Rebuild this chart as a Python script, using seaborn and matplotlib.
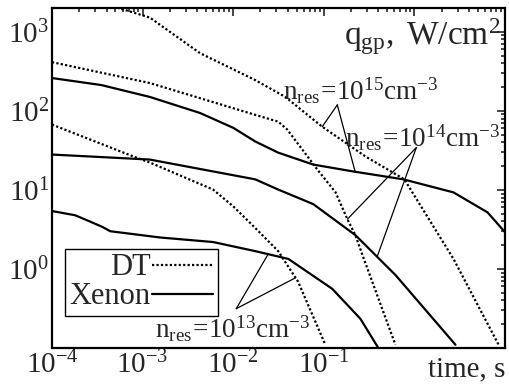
import numpy as np
import pandas as pd
import seaborn as sns
import matplotlib
matplotlib.use("Agg")
import matplotlib.pyplot as plt
from matplotlib.lines import Line2D

# DT curves (dotted), time in s, heat flux in W/cm^2
dt15_t = [1e-4, 5.6e-4, 1.2e-3, 4.3e-3, 0.0175, 0.0376, 0.096, 0.288, 0.776, 0.95, 2.7, 8.5]
dt15_q = [3500, 1977, 1515, 537, 245, 150, 63, 26.5, 13.6, 9.3, 1.34, 0.11]
dt14_t = [1e-4, 1.2e-3, 0.0175, 0.0314, 0.0395, 0.0848, 0.135, 0.182, 0.223, 0.273, 0.617]
dt14_q = [413, 225, 89, 73, 58, 18.1, 9.3, 4.26, 2.68, 1.4, 0.11]
dt13_t = [1e-4, 7.9e-4, 1.2e-3, 6.0e-3, 0.01, 0.0175, 0.0314, 0.052, 0.104]
dt13_q = [67, 26.5, 22.2, 10.1, 6.2, 3.3, 1.68, 0.69, 0.11]

# Xenon curves (solid)
xe15_t = [1e-4, 3.5e-4, 1.2e-3, 4.3e-3, 0.01, 0.0175, 0.0314, 0.0766, 0.212, 0.755, 2.7, 6.41, 10]
xe15_q = [260, 212, 150, 94, 61, 41, 29.6, 20.9, 17.1, 13.6, 9.3, 5.2, 2.92]
xe14_t = [1e-4, 1.2e-3, 0.0175, 0.0314, 0.0766, 0.223, 0.617, 2.84]
xe14_q = [28, 24.2, 13.6, 10.1, 6.6, 2.68, 0.84, 0.11]
xe13_t = [1e-4, 1.8e-4, 2.6e-4, 3.6e-4, 4.4e-4, 1.56e-3, 6.0e-3, 0.0175, 0.0406, 0.124, 0.253, 0.40]
xe13_q = [5.4, 4.78, 4.0, 3.4, 3.0, 2.5, 2.19, 1.68, 1.34, 0.56, 0.235, 0.1]

# annotation pointers: label anchor -> (DT point, Xenon point)
ann15 = [(0.141, 119), (0.096, 63), (0.223, 16.6)]
ann14 = [(1.05, 34.3), (0.182, 4.26), (0.39, 1.45)]
ann13 = [(0.0108, 0.314), (0.0484, 0.77), (0.0244, 1.55)]

sns.set_style("white")
plt.rcParams['font.family'] = ['Liberation Serif', 'DejaVu Serif']
plt.rcParams['mathtext.fontset'] = 'custom'
plt.rcParams['mathtext.rm'] = 'Liberation Serif'
plt.rcParams['mathtext.it'] = 'Liberation Serif:italic'

fig = plt.figure(figsize=(5.1, 3.86), dpi=100)
ax = fig.add_axes([52/510, 1-348/386, 453/510, 340/386])

dotted = (0, (1, 1))
for tt, qq in [(dt15_t, dt15_q), (dt14_t, dt14_q), (dt13_t, dt13_q)]:
    df = pd.DataFrame({"t": tt, "q": qq})
    sns.lineplot(data=df, x="t", y="q", ax=ax, color="black", lw=1.6,
                 linestyle=dotted, estimator=None, sort=False)
for tt, qq in [(xe15_t, xe15_q), (xe14_t, xe14_q), (xe13_t, xe13_q)]:
    df = pd.DataFrame({"t": tt, "q": qq})
    sns.lineplot(data=df, x="t", y="q", ax=ax, color="black", lw=1.6,
                 estimator=None, sort=False)

ax.set_xscale("log")
ax.set_yscale("log")
ax.set_xlim(1e-4, 10)
ax.set_ylim(0.1, 2000)
ax.set_xlabel("")
ax.set_ylabel("")

ax.set_xticks([1e-4, 1e-3, 1e-2, 1e-1, 1, 10])
ax.set_xticklabels([r"$\mathrm{10^{-4}}$", r"$\mathrm{10^{-3}}$", r"$\mathrm{10^{-2}}$",
                    r"$\mathrm{10^{-1}}$", "", ""])
ax.set_yticks([1, 10, 100, 1000])
ax.set_yticklabels([r"$\mathrm{10^{0}}$", r"$\mathrm{10^{1}}$", r"$\mathrm{10^{2}}$",
                    r"$\mathrm{10^{3}}$"])
ax.tick_params(which="both", direction="in", top=True, right=True, width=1.2, labelsize=21)
ax.tick_params(which="major", length=6, pad=2)
ax.tick_params(which="minor", length=3)
for s in ax.spines.values():
    s.set_linewidth(1.6)
    s.set_color("black")

# annotations
lab = {15: (ann15, 283, 100), 14: (ann14, 345, 147), 13: (ann13, 155, 338)}
for n, (pts, px, py) in lab.items():
    o = pts[0]
    for p in pts[1:]:
        ax.plot([o[0], p[0]], [o[1], p[1]], color="black", lw=0.9)
    fig.text(px/510, 1-py/386, r"$\mathrm{n_{res}\!=\!10^{%d}cm^{-3}}$" % n,
             fontsize=19.5, ha="left", va="baseline")

fig.text(501/510, 1-45/386, r"$\mathrm{q_{gp},\ W/cm^{2}}$", fontsize=24,
         ha="right", va="baseline")
fig.text(505/510, 1-376/386, "time, s", fontsize=21, ha="right", va="baseline")

handles = [Line2D([], [], color="black", lw=1.6, linestyle=dotted),
           Line2D([], [], color="black", lw=1.6)]
leg = ax.legend(handles, ["DT", "Xenon"], loc="lower left", bbox_to_anchor=(13/453, 32/340),
                markerfirst=False, fontsize=22, handlelength=2.0, handletextpad=0.05,
                borderpad=0.15, labelspacing=0.0, fancybox=False, framealpha=1,
                borderaxespad=0)
leg.get_frame().set_edgecolor("black")
leg.get_frame().set_linewidth(1.0)

fig.savefig("out.png", dpi=100)
